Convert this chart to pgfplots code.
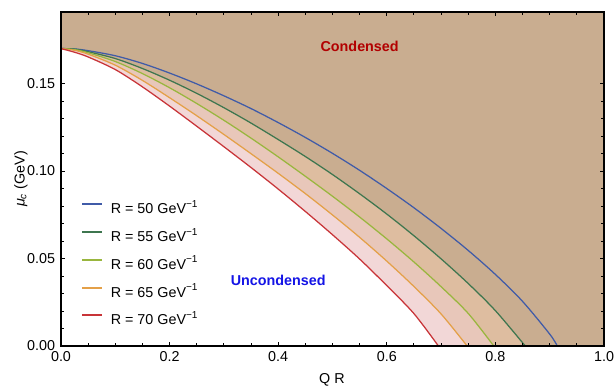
\documentclass[border=0pt]{standalone}
\usepackage{fontspec}
\setmainfont{Liberation Sans}
\usepackage{pgfplots}
\pgfplotsset{compat=1.18}
\definecolor{cT}{RGB}{201,173,144}
\definecolor{cA}{RGB}{222,189,160}
\definecolor{cB}{RGB}{232,199,186}
\definecolor{cC}{RGB}{242,215,215}
\definecolor{lBlue}{RGB}{64,91,168}
\definecolor{lGreen}{RGB}{62,118,79}
\definecolor{lYG}{RGB}{153,182,62}
\definecolor{lOrange}{RGB}{228,160,72}
\definecolor{lRed}{RGB}{200,52,56}
\definecolor{tCond}{RGB}{178,0,0}
\definecolor{tUnc}{RGB}{20,20,230}
\newcommand{\fs}{\fontsize{8.6}{10}\selectfont}
\pgfplotstableread{
x y
0 0.1700
0.025 0.1698
0.05 0.1688
0.1 0.1659
0.15 0.1615
0.2 0.1560
0.25 0.1498
0.3 0.1430
0.35 0.1357
0.4 0.1277
0.45 0.1192
0.5 0.1101
0.55 0.1004
0.6 0.0900
0.65 0.0790
0.7 0.0672
0.75 0.0546
0.8 0.0409
0.85 0.0255
0.9 0.0068
0.914 0
}\tblA
\pgfplotstableread{
x y
0 0.1700
0.025 0.1697
0.05 0.1682
0.1 0.1643
0.15 0.1586
0.2 0.1519
0.25 0.1444
0.3 0.1362
0.35 0.1274
0.4 0.1180
0.45 0.1083
0.5 0.0980
0.55 0.0870
0.6 0.0754
0.65 0.0630
0.7 0.0498
0.75 0.0357
0.8 0.0202
0.855 0
}\tblB
\pgfplotstableread{
x y
0 0.1700
0.025 0.1694
0.05 0.1676
0.1 0.1626
0.15 0.1557
0.2 0.1476
0.25 0.1386
0.3 0.1290
0.35 0.1188
0.4 0.1081
0.45 0.0970
0.5 0.0856
0.55 0.0737
0.6 0.0612
0.65 0.0480
0.7 0.0339
0.75 0.0186
0.797 0
}\tblC
\pgfplotstableread{
x y
0 0.1700
0.025 0.1690
0.05 0.1668
0.1 0.1605
0.15 0.1518
0.2 0.1419
0.25 0.1316
0.3 0.1209
0.35 0.1099
0.4 0.0987
0.45 0.0871
0.5 0.0749
0.55 0.0621
0.6 0.0485
0.65 0.0340
0.7 0.0183
0.748 0
}\tblD
\pgfplotstableread{
x y
0 0.1700
0.025 0.1679
0.05 0.1652
0.1 0.1580
0.15 0.1481
0.2 0.1371
0.25 0.1256
0.3 0.1139
0.35 0.1020
0.4 0.0897
0.45 0.0769
0.5 0.0636
0.55 0.0497
0.6 0.0345
0.65 0.0185
0.695 0
}\tblE
\begin{document}
\begin{tikzpicture}
\begin{axis}[name=ax, scale only axis, width=325.8pt, height=200.4pt,
  xmin=0, xmax=1, ymin=0, ymax=0.1909,
  xtick={0,0.2,0.4,0.6,0.8,1}, ytick={0,0.05,0.1,0.15},
  minor x tick num=3, minor y tick num=4,
  tick align=inside, major tick length=2.6pt, minor tick length=1.6pt,
  xticklabel style={/pgf/number format/.cd, fixed, fixed zerofill, precision=1},
  yticklabel style={/pgf/number format/.cd, fixed, fixed zerofill, precision=2},
  /pgf/number format/assume math mode=true,
  tick label style={font=\fs},
  axis line style={line width=1.1pt},
  every tick/.style={black, line width=0.6pt},
  axis background/.style={fill=cT},
  axis on top,
  xlabel={Q R},
  xlabel style={at={(axis description cs:0.499,0)}, anchor=north, yshift=-16pt, inner sep=0pt, font=\fs},
  ylabel={{\itshape μ}\textsubscript{\itshape c} (GeV)},
  ylabel style={at={(axis description cs:-0.0737,0.5)}, anchor=center, rotate=0, font=\fs},
  legend cell align=left,
  legend image code/.code={\fill[#1, draw=none] (0pt,2.6pt) rectangle (12pt,3.8pt);},
  legend style={at={(axis cs:0.0374,0.0835)}, anchor=north west, draw=none, fill=none,
    inner sep=0pt, row sep=5.7pt, column sep=4.5pt,
    nodes={inner sep=1pt, text height=7pt, text depth=2pt, font=\fs}},
]
% fills below curves
\addplot[forget plot, smooth, draw=none, fill=cA] table[x=x,y=y] {\tblB} \closedcycle;
\addplot[forget plot, smooth, draw=none, fill=cB] table[x=x,y=y] {\tblC} \closedcycle;
\addplot[forget plot, smooth, draw=none, fill=cC] table[x=x,y=y] {\tblD} \closedcycle;
\addplot[forget plot, smooth, draw=none, fill=white] table[x=x,y=y] {\tblE} \closedcycle;
% curves
\addplot[smooth, color=lBlue, line width=0.75pt] table[x=x,y=y] {\tblA};
\addlegendentry{R = 50 GeV\textsuperscript{−1}}
\addplot[smooth, color=lGreen, line width=0.75pt] table[x=x,y=y] {\tblB};
\addlegendentry{R = 55 GeV\textsuperscript{−1}}
\addplot[smooth, color=lYG, line width=0.75pt] table[x=x,y=y] {\tblC};
\addlegendentry{R = 60 GeV\textsuperscript{−1}}
\addplot[smooth, color=lOrange, line width=0.75pt] table[x=x,y=y] {\tblD};
\addlegendentry{R = 65 GeV\textsuperscript{−1}}
\addplot[smooth, color=lRed, line width=0.75pt] table[x=x,y=y] {\tblE};
\addlegendentry{R = 70 GeV\textsuperscript{−1}}
\node[font=\fs\bfseries, text=tCond] at (axis cs:0.55,0.171) {Condensed};
\node[font=\fs\bfseries, text=tUnc] at (axis cs:0.40,0.0377) {Uncondensed};
\end{axis}
\pgfresetboundingbox
\path[use as bounding box] ([shift={(-36.6pt,-23.4pt)}]ax.south west) rectangle ([shift={(6pt,7.2pt)}]ax.north east);
\end{tikzpicture}
\end{document}
